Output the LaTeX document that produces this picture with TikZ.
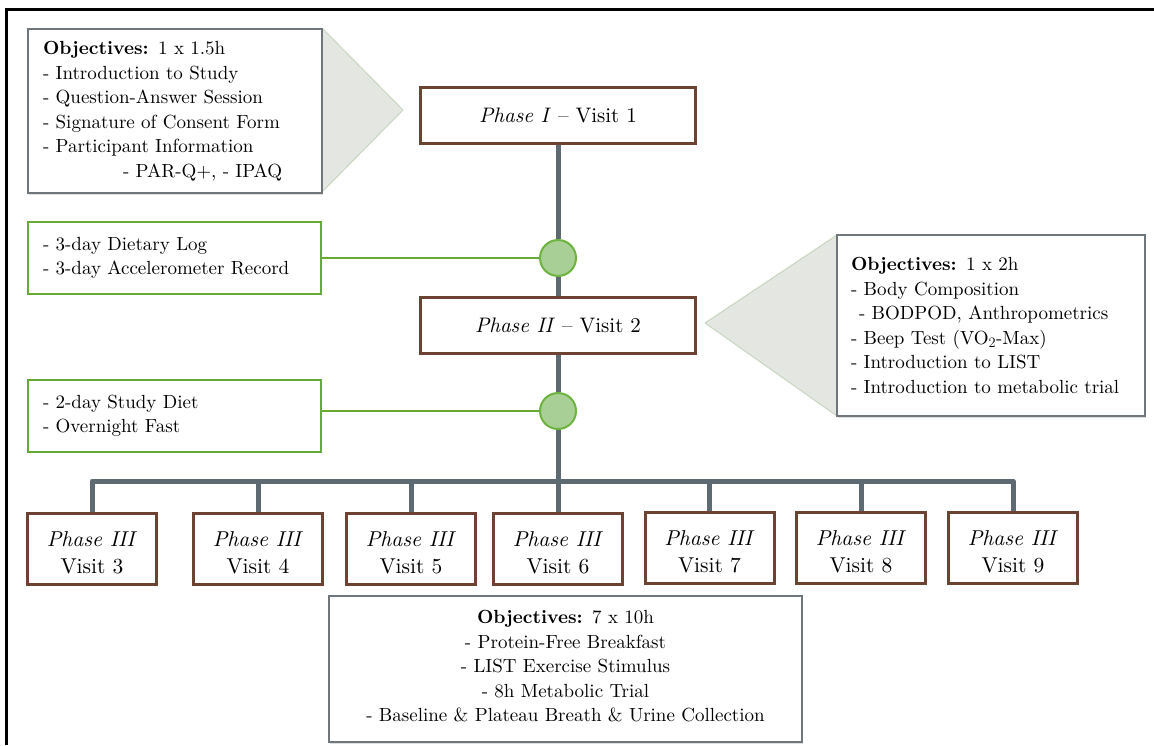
\documentclass[tikz,border=0pt]{standalone}
\usepackage{fontspec}
\setmainfont{lmroman10}[Extension=.otf, UprightFont=*-regular, BoldFont=*-bold, ItalicFont=*-italic, BoldItalicFont=*-bolditalic]
\usetikzlibrary{shadows,backgrounds}
\definecolor{brownc}{HTML}{6E4232}
\definecolor{spinec}{HTML}{5E6A71}
\definecolor{greenc}{HTML}{68AA38}
\definecolor{dotfill}{HTML}{A8CF95}
\definecolor{dotedge}{HTML}{6DB33F}
\definecolor{objedge}{HTML}{6F777C}
\definecolor{trifill}{HTML}{E3E6E1}
\definecolor{triedge}{HTML}{C9D7C1}
\newcommand{\vupstrut}{\rule{0pt}{24pt}}
\tikzset{
  phasebox/.style={draw=brownc, line width=3pt, fill=white, minimum width=275pt, minimum height=56pt, inner sep=0pt, font=\fontsize{21}{25}\selectfont},
  visitbox/.style={draw=brownc, line width=3pt, fill=white, minimum width=129pt, minimum height=71pt, inner sep=0pt, align=center, font=\fontsize{21.5}{27}\selectfont},
  greenbox/.style={draw=greenc, line width=2.5pt, fill=white, minimum width=293pt, minimum height=72pt, inner xsep=15pt, text width=263pt, align=left, font=\fontsize{19}{24.5}\selectfont},
  objbox/.style={draw=objedge, line width=1.3pt, fill=white, inner sep=0pt, font=\fontsize{19}{24.5}\selectfont, drop shadow={opacity=0.25, shadow xshift=1pt, shadow yshift=-1.5pt}},
  tri/.style={fill=trifill, draw=triedge, line width=1pt, line join=round},
  spine/.style={draw=spinec, line width=5pt, line join=round},
  greenline/.style={draw=greenc, line width=2.5pt},
  dot/.style={circle, fill=dotfill, draw=dotedge, line width=2pt, minimum size=36pt, inner sep=0pt},
  frameline/.style={draw=black, line width=3pt}
}
\begin{document}
\begin{tikzpicture}[x=1pt,y=-1pt]
\useasboundingbox (0,0) rectangle (1154,745);
% frame
\coordinate (ftl) at (6,9);
\coordinate (ftr) at (1154,9);
\coordinate (fbl) at (6,745);
\draw[frameline] (fbl) -- (ftl) -- (ftr);

% triangles
\draw[tri] (322,28) -- (403,110) -- (322,192) -- cycle;
\draw[tri] (837,235) -- (705,323) -- (837,416) -- cycle;

% objective boxes
\node[objbox, minimum width=294pt, minimum height=164pt, text width=264pt, inner xsep=15pt, align=left] (oA) at (175,111) {%
\textbf{Objectives:} 1 x 1.5h\\
- Introduction to Study\\
- Question-Answer Session\\
- Signature of Consent Form\\
- Participant Information\\
\hspace*{80pt}- PAR-Q+, - IPAQ};

\node[objbox, minimum width=308pt, minimum height=181pt, text width=280pt, inner xsep=14pt, align=left] (oB) at (991,325.5) {%
\textbf{Objectives:} 1 x 2h\\
- Body Composition\\
\hspace*{8pt}- BODPOD, Anthropometrics\\
- Beep Test (VO$_2$-Max)\\
- Introduction to LIST\\
- Introduction to metabolic trial};

\node[objbox, minimum width=473pt, minimum height=146pt, text width=450pt, align=center] (oC) at (565.5,669) {%
\textbf{Objectives:} 7 x 10h\\
- Protein-Free Breakfast\\
- LIST Exercise Stimulus\\
- 8h Metabolic Trial\\
- Baseline \& Plateau Breath \& Urine Collection\rule[-6pt]{0pt}{0pt}};

% phase boxes
\node[phasebox] (p1) at (558,115) {\textit{Phase I} – Visit 1};
\node[phasebox] (p2) at (558,325) {\textit{Phase II} – Visit 2};

% dots
\node[dot] (c1) at (558,258) {};
\node[dot] (c2) at (558,411) {};

% green boxes
\node[greenbox] (g1) at (174.5,258) {- 3-day Dietary Log\\- 3-day Accelerometer Record};
\node[greenbox] (g2) at (174.5,416) {- 2-day Study Diet\\- Overnight Fast};

% visit boxes
\node[visitbox] (v3) at (92,548.5) {\vupstrut\textit{Phase III}\\Visit 3};
\node[visitbox] (v4) at (258,548.5) {\vupstrut\textit{Phase III}\\Visit 4};
\node[visitbox] (v5) at (411,548.5) {\vupstrut\textit{Phase III}\\Visit 5};
\node[visitbox] (v6) at (558,548.5) {\vupstrut\textit{Phase III}\\Visit 6};
\node[visitbox] (v7) at (709.5,547.5) {\vupstrut\textit{Phase III}\\Visit 7};
\node[visitbox] (v8) at (861,547.5) {\vupstrut\textit{Phase III}\\Visit 8};
\node[visitbox] (v9) at (1013,547.5) {\vupstrut\textit{Phase III}\\Visit 9};

\coordinate (bus) at (558,481);

\begin{pgfonlayer}{background}
\draw[spine] (p1.south) -- (c1.north);
\draw[spine] (c1.south) -- (p2.north);
\draw[spine] (p2.south) -- (c2.north);
\draw[spine] (c2.south) -- (bus);
\draw[spine] (v3.north) |- (bus) -| (v9.north);
\draw[spine] (v4.north) -- (v4.north |- bus);
\draw[spine] (v5.north) -- (v5.north |- bus);
\draw[spine] (v6.north) -- (v6.north |- bus);
\draw[spine] (v7.north) -- (v7.north |- bus);
\draw[spine] (v8.north) -- (v8.north |- bus);
\draw[greenline] (g1.east) -- (c1.west);
\draw[greenline] (c2.west) -- (c2.west -| g2.east);
\end{pgfonlayer}
\end{tikzpicture}
\end{document}
